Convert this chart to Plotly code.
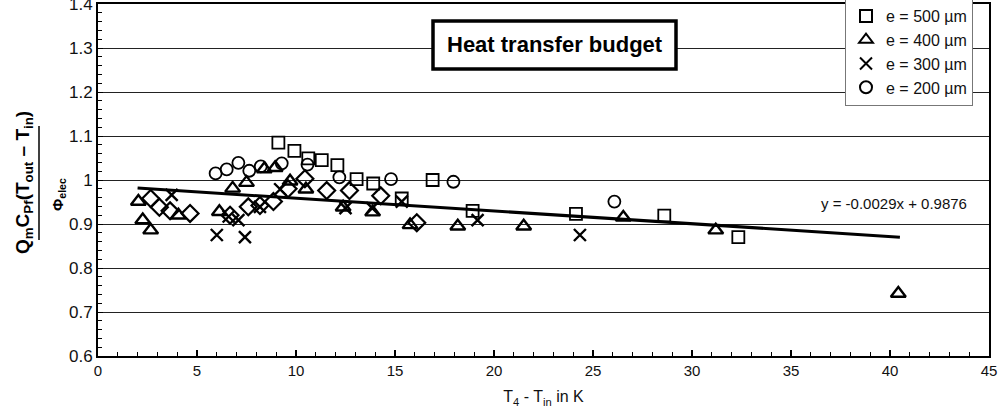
import plotly.graph_objects as go

# ---- data ----
x500 = [9.11, 9.92, 10.62, 11.3, 12.09, 13.06, 13.9, 15.34, 16.9, 18.92, 24.14, 28.6, 32.34]
y500 = [1.085, 1.066, 1.049, 1.045, 1.034, 1.002, 0.992, 0.958, 1.0, 0.93, 0.923, 0.919, 0.870]

x400 = [2.04, 2.26, 2.66, 4.06, 6.13, 6.8, 7.5, 8.4, 8.95, 9.7, 10.5, 12.38, 13.87, 15.76, 18.17, 21.5, 26.53, 31.2, 40.42]
y400 = [0.951, 0.909, 0.886, 0.92, 0.928, 0.981, 0.994, 1.025, 1.028, 0.997, 0.979, 0.938, 0.927, 0.898, 0.895, 0.895, 0.915, 0.886, 0.742]

x300 = [3.72, 6.0, 6.6, 7.09, 7.42, 8.18, 9.2, 12.5, 13.85, 15.34, 19.17, 24.34]
y300 = [0.966, 0.875, 0.917, 0.909, 0.870, 0.939, 0.979, 0.936, 0.936, 0.951, 0.909, 0.875]

x200 = [5.94, 6.5, 7.09, 7.64, 8.22, 9.28, 10.58, 12.19, 14.8, 17.95, 26.08]
y200 = [1.015, 1.024, 1.039, 1.021, 1.031, 1.038, 1.035, 1.006, 1.002, 0.996, 0.951]

x_other = [2.66, 3.1, 3.64, 4.65, 6.67, 7.59, 8.18, 8.86, 9.6, 10.45, 11.55, 12.7, 14.28, 16.1]
y_other = [0.958, 0.938, 0.930, 0.924, 0.92, 0.939, 0.942, 0.951, 0.98, 1.003, 0.976, 0.976, 0.964, 0.903]

fit_slope = -0.0029
fit_intercept = 0.9876
fit_x = [2.0, 40.5]
fit_y = [fit_slope * v + fit_intercept for v in fit_x]

y_ticks = [0.6, 0.7, 0.8, 0.9, 1.0, 1.1, 1.2, 1.3, 1.4]
y_ticklabels = ["0.6", "0.7", "0.8", "0.9", "1", "1.1", "1.2", "1.3", "1.4"]
x_ticks = [0, 5, 10, 15, 20, 25, 30, 35, 40, 45]

FONT = "Liberation Sans, Arial, sans-serif"

fig = go.Figure()

fig.add_trace(go.Scatter(x=fit_x, y=fit_y, mode="lines", line=dict(color="black", width=3),
                         showlegend=False, hoverinfo="skip"))
fig.add_trace(go.Scatter(x=x_other, y=y_other, mode="markers", showlegend=False,
                         marker=dict(symbol="diamond-open", size=13, color="black",
                                     line=dict(width=2.2, color="black"))))
fig.add_trace(go.Scatter(x=x500, y=y500, mode="markers", name="e = 500 µm", legendgroup="a",
                         marker=dict(symbol="square-open", size=12, color="black",
                                     line=dict(width=1.8, color="black"))))
fig.add_trace(go.Scatter(x=x400, y=y400, mode="markers", name="e = 400 µm", legendgroup="b",
                         marker=dict(symbol="triangle-up-open", size=13, color="black",
                                     line=dict(width=2.4, color="black"))))
fig.add_trace(go.Scatter(x=x300, y=y300, mode="markers", name="e = 300 µm", legendgroup="c",
                         marker=dict(symbol="x-thin-open", size=12, color="black",
                                     line=dict(width=2.4, color="black"))))
fig.add_trace(go.Scatter(x=x200, y=y200, mode="markers", name="e = 200 µm", legendgroup="d",
                         marker=dict(symbol="circle-open", size=12, color="black",
                                     line=dict(width=1.8, color="black"))))

L, R, T, B = 98, 13, 4, 59
W, H = 1002, 415
pw, ph = W - L - R, H - T - B

def px_x(p):
    return (p - L) / pw

def px_y(p):
    return (H - B - p) / ph

fig.update_layout(
    width=W, height=H,
    margin=dict(l=L, r=R, t=T, b=B, pad=0, autoexpand=False),
    paper_bgcolor="white", plot_bgcolor="white",
    font=dict(family=FONT, color="#111", size=15),
    legend=dict(x=px_x(845), y=px_y(-2), xanchor="left", yanchor="top",
                bgcolor="white", bordercolor="#777", borderwidth=1,
                font=dict(size=16, family=FONT, color="#111"),
                tracegroupgap=0, itemsizing="constant"),
    xaxis=dict(range=[0, 45], tickvals=x_ticks, ticks="inside", ticklen=6, tickwidth=1.5,
               tickcolor="black", showline=True, linecolor="black", linewidth=2, mirror=True,
               showgrid=False, zeroline=False, ticklabeloverflow="allow",
               minor=dict(dtick=1, ticks="inside", ticklen=4, tickwidth=1.3, tickcolor="black"),
               tickfont=dict(size=15),
               title=dict(text="T<sub>4</sub> - T<sub>in</sub> in K", font=dict(size=16), standoff=13)),
    yaxis=dict(range=[0.6, 1.4], tickvals=y_ticks, ticktext=y_ticklabels, ticks="inside",
               ticklen=5, tickwidth=1.3, tickcolor="black", ticklabeloverflow="allow",
               showline=True, linecolor="black", linewidth=2, mirror=True,
               showgrid=True, gridcolor="#222", gridwidth=1.3, zeroline=False,
               minor=dict(dtick=0.02, ticks="inside", ticklen=4, tickwidth=1.3, tickcolor="black",
                          showgrid=False),
               tickfont=dict(size=17)),
    showlegend=True,
)

# Title box
fig.add_shape(type="rect", xref="paper", yref="paper",
              x0=px_x(433), x1=px_x(676), y0=px_y(69), y1=px_y(21),
              line=dict(color="black", width=3.5), fillcolor="white", layer="above")
fig.add_annotation(xref="paper", yref="paper", x=px_x(554.5), y=px_y(45),
                   text="<b>Heat transfer budget</b>", showarrow=False,
                   font=dict(size=22, family=FONT, color="black"),
                   xanchor="center", yanchor="middle")

# Regression equation
fig.add_annotation(xref="paper", yref="paper", x=px_x(894), y=px_y(203),
                   text="y = -0.0029x + 0.9876", showarrow=False,
                   font=dict(size=15, family=FONT, color="#111"),
                   xanchor="center", yanchor="middle")

# Y axis label as a fraction
fig.add_annotation(xref="paper", yref="paper", x=px_x(24), y=px_y(183),
                   text="<b>Q<sub>m</sub>C<sub>Pf</sub>(T<sub>out</sub> – T<sub>in</sub>)</b>",
                   showarrow=False, textangle=-90,
                   font=dict(size=19, family=FONT, color="black"),
                   xanchor="center", yanchor="middle")
fig.add_shape(type="line", xref="paper", yref="paper",
              x0=px_x(39), x1=px_x(39), y0=px_y(126), y1=px_y(240),
              line=dict(color="black", width=1.5))
fig.add_annotation(xref="paper", yref="paper", x=px_x(58), y=px_y(195),
                   text="<b>Φ<sub>elec</sub></b>", showarrow=False, textangle=-90,
                   font=dict(size=15, family=FONT, color="black"),
                   xanchor="center", yanchor="middle")

fig.write_html(
    "out.html",
    config={"displayModeBar": False},
    post_script="document.body.style.margin='0';document.body.style.overflow='hidden';",
)
